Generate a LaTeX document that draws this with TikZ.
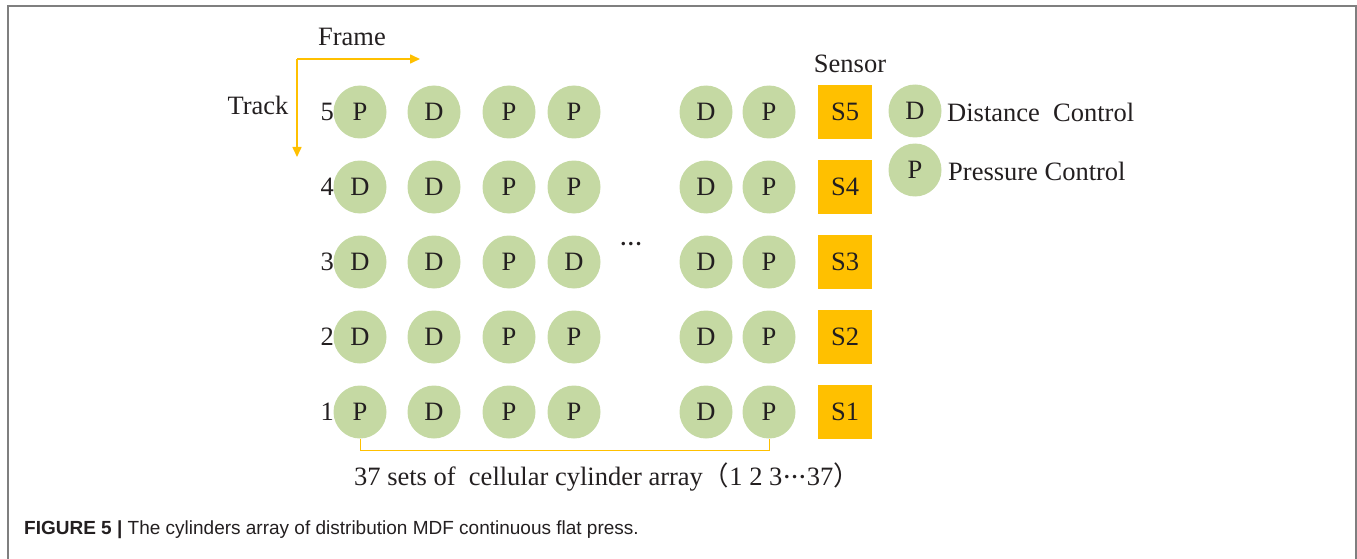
\documentclass[tikz,border=0pt]{standalone}
\usepackage{fontspec}
\setmainfont{Liberation Serif}
\newfontfamily\capfont{Liberation Sans}
\newfontfamily\cjk{Noto Sans CJK SC}
\newfontfamily\symfont{DejaVu Sans}
\usetikzlibrary{arrows.meta}
\definecolor{cyl}{HTML}{C5D9A3}
\definecolor{gold}{HTML}{FFC000}
\definecolor{rulegray}{HTML}{7F7F7F}
\definecolor{ink}{HTML}{231F20}
% three bold dots at mid-height
\newcommand{\middots}{\raisebox{3.5pt}{\symfont\fontsize{12}{14}\selectfont •\kern0.6pt•\kern0.6pt•}}

\begin{document}
\begin{tikzpicture}[x=1pt, y=-1pt,
  every node/.style={text=ink},
  cylinder/.style={circle, fill=cyl, minimum size=53pt, inner sep=0pt,
    font=\fontsize{26.5}{30}\selectfont},
  sensorbox/.style={rectangle, fill=gold, minimum size=54pt, inner sep=0pt,
    font=\fontsize{26.5}{30}\selectfont},
  lbl/.style={inner sep=0pt, font=\fontsize{26.5}{30}\selectfont},
  dirarrow/.style={draw=gold, line width=1.6pt,
    -{Triangle[length=10pt, width=9pt]}},
  bracket/.style={draw=gold, line width=1pt}]

\useasboundingbox (0,0) rectangle (1357,559);

% outer frame, open at the bottom
\draw[rulegray, line width=2pt] (7.5,559) -- (7.5,6.5) -- (1355.5,6.5) -- (1355.5,559);

% direction arrows
\coordinate (origin) at (297,59);
\coordinate (frameend) at (420,59);
\coordinate (trackend) at (297,157);
\draw[dirarrow] (origin) -- (frameend);
\draw[dirarrow] (origin) -- (trackend);
\node[lbl] (framelbl) at (352,37) {Frame};
\node[lbl] (tracklbl) at (258,105) {Track};
\node[lbl] (sensorlbl) at (850,64) {Sensor};

% cylinder array: one row per track
\foreach \r/\y/\a/\b/\c/\d in {5/112/P/D/P/P, 4/187/D/D/P/P, 3/262/D/D/P/D,
                               2/337/D/D/P/P, 1/412/P/D/P/P}{
  \node[lbl, anchor=east] (n\r) at (334,\y) {\r};
  \node[cylinder] (c\r-1) at (360,\y) {\a};
  \node[cylinder] (c\r-2) at (434,\y) {\b};
  \node[cylinder] (c\r-3) at (509,\y) {\c};
  \node[cylinder] (c\r-4) at (574,\y) {\d};
  \node[cylinder] (c\r-5) at (706,\y) {D};
  \node[cylinder] (c\r-6) at (769,\y) {P};
  \node[sensorbox] (s\r) at (845,\y) {S\r};
}
\node[lbl] (gap) at (631,247) {\middots};

% legend
\node[cylinder] (legd) at (915,111) {D};
\node[cylinder] (legp) at (915,170) {P};
\node[lbl, anchor=west] (legdtxt) at (947,112) {Distance\ \ Control};
\node[lbl, anchor=west] (legptxt) at (948,171) {Pressure Control};

% span of one cylinder set
\draw[bracket] (c1-1.south) -- ++(0,12) -| (c1-6.south);
\node[lbl] (setlbl) at (607,477)
  {37 sets of\ \ cellular cylinder array{\cjk （}1 2 3\kern1pt\middots\kern1pt 37{\cjk ）}};

% caption
\node[inner sep=0pt, anchor=west, font=\capfont\fontsize{19}{22}\selectfont]
  (caption) at (24,530)
  {\textbf{FIGURE 5 |} The cylinders array of distribution MDF continuous flat press.};
\end{tikzpicture}
\end{document}
